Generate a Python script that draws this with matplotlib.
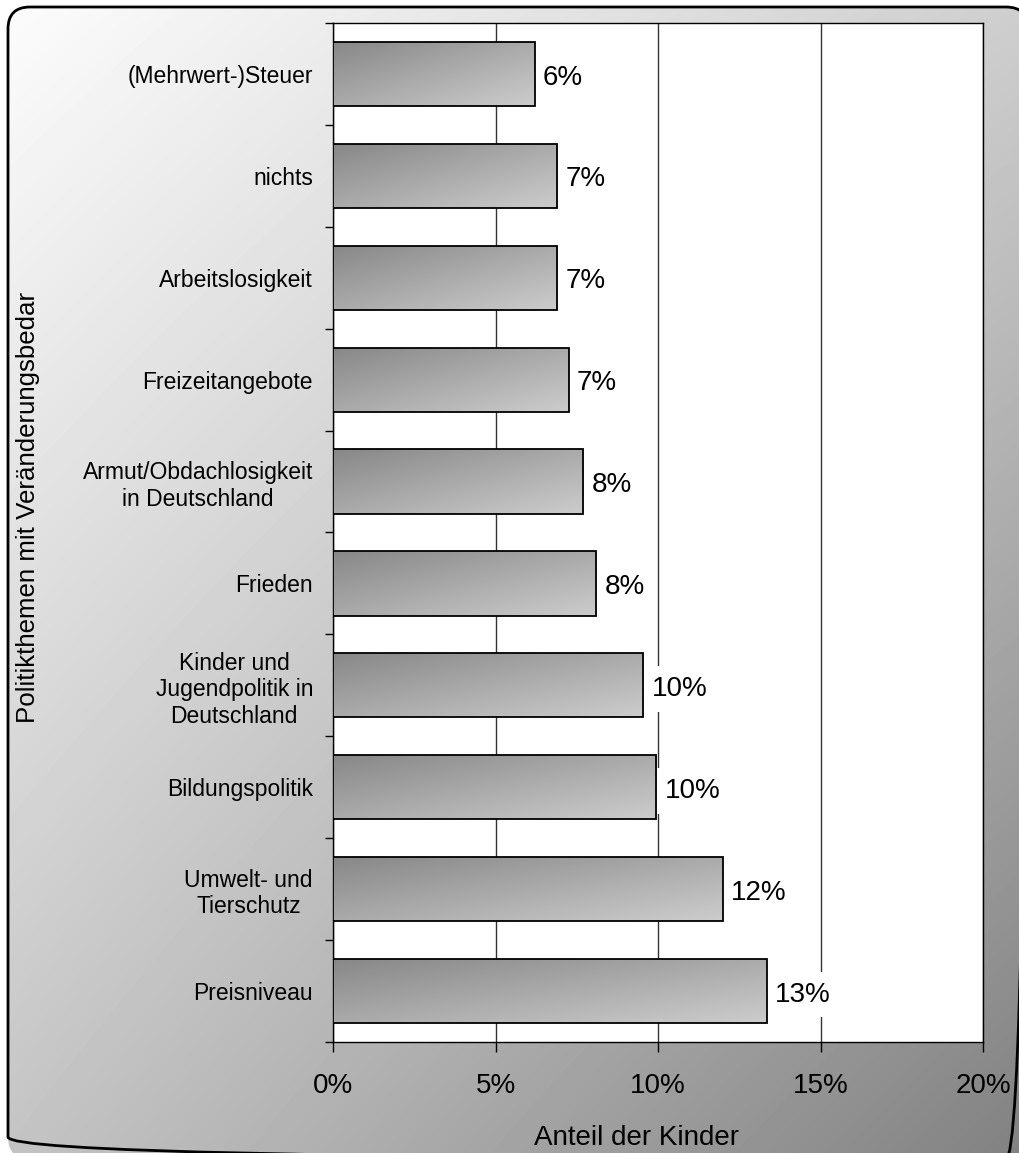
import numpy as np
import matplotlib.pyplot as plt
from matplotlib.patches import FancyBboxPatch

plt.rcParams['font.family'] = ['Liberation Sans', 'DejaVu Sans']

themen = ["(Mehrwert-)Steuer", "nichts", "Arbeitslosigkeit", "Freizeitangebote",
          "Armut/Obdachlosigkeit\nin Deutschland", "Frieden",
          "Kinder und\nJugendpolitik in\nDeutschland", "Bildungspolitik",
          "Umwelt- und\nTierschutz", "Preisniveau"]
anteil = [6.2, 6.9, 6.9, 7.25, 7.7, 8.1, 9.55, 9.95, 12.0, 13.35]
werte_text = ["6%", "7%", "7%", "7%", "8%", "8%", "10%", "10%", "12%", "13%"]
x_ticks = [0, 5, 10, 15, 20]

W, H = 1019, 1153
fig = plt.figure(figsize=(W / 100, H / 100), dpi=100)
fig.patch.set_facecolor('white')

# hintergrund mit verlauf und abgerundetem rahmen
bg = fig.add_axes([0, 0, 1, 1], zorder=-5)
xn, yn = np.meshgrid(np.linspace(0, 1, 300), np.linspace(0, 1, 300))
shade = 0.99 - 0.18 * xn - 0.22 * yn - 0.08 * xn * yn
img = bg.imshow(shade, cmap='gray', vmin=0, vmax=1, extent=(0, W, H, 0),
                aspect='auto', interpolation='bicubic')
frame = FancyBboxPatch((8, 7), 1020, 1152, boxstyle="round,pad=0,rounding_size=22",
                       fc='none', ec='black', lw=2)
bg.add_patch(frame)
img.set_clip_path(frame)
bg.set_xlim(0, W)
bg.set_ylim(H, 0)
bg.axis('off')

ax = fig.add_axes([333 / W, 1 - 1042 / H, 650 / W, 1019 / H])
ax.set_facecolor('white')
y = np.arange(len(themen))
bars = ax.barh(y, anteil, height=0.63, fc='none', ec='black', lw=1.3, zorder=4)

gx, gy = np.meshgrid(np.linspace(0, 1, 120), np.linspace(0, 1, 60))
grad = 0.53 + 0.27 * (gx + gy) / 2
for bar in bars:
    x0, y0 = bar.get_x(), bar.get_y()
    w, h = bar.get_width(), bar.get_height()
    im = ax.imshow(grad, cmap='gray', vmin=0, vmax=1, extent=(x0, x0 + w, y0 + h, y0),
                   aspect='auto', zorder=3, interpolation='bicubic')
    im.set_clip_path(bar)

for yi, v, t in zip(y, anteil, werte_text):
    ax.text(v + 0.25, yi + 0.035, t, fontsize=20, va='center', ha='left', zorder=2.5,
            bbox=dict(boxstyle='square,pad=0.35', fc='white', ec='none'))

ax.set_xlim(0, 20)
ax.set_ylim(9.5, -0.5)
ax.set_xticks(x_ticks)
ax.set_xticklabels([f"{t}%" for t in x_ticks], fontsize=20)
ax.tick_params(axis='x', length=7, width=1, pad=15.5, direction='out')
ax.set_yticks(y)
ax.set_yticklabels(themen, fontsize=16.5, ma='center')
ax.tick_params(axis='y', which='major', length=0, pad=14.4)
ax.set_yticks(np.arange(-0.5, 10, 1), minor=True)
ax.tick_params(axis='y', which='minor', length=6, width=1, direction='out')
ax.grid(axis='x', color='#333333', lw=1)
ax.set_axisbelow(True)
for s in ax.spines.values():
    s.set_linewidth(1)
    s.set_color('black')

fig.text(28 / W, 1 - 507 / H, "Politikthemen mit Veränderungsbedar", rotation=90,
         fontsize=18.6, ha='center', va='center')
fig.text(637 / W, 1 - 1145 / H, "Anteil der Kinder", fontsize=20, ha='center', va='baseline')

fig.savefig('out.png', dpi=100)
